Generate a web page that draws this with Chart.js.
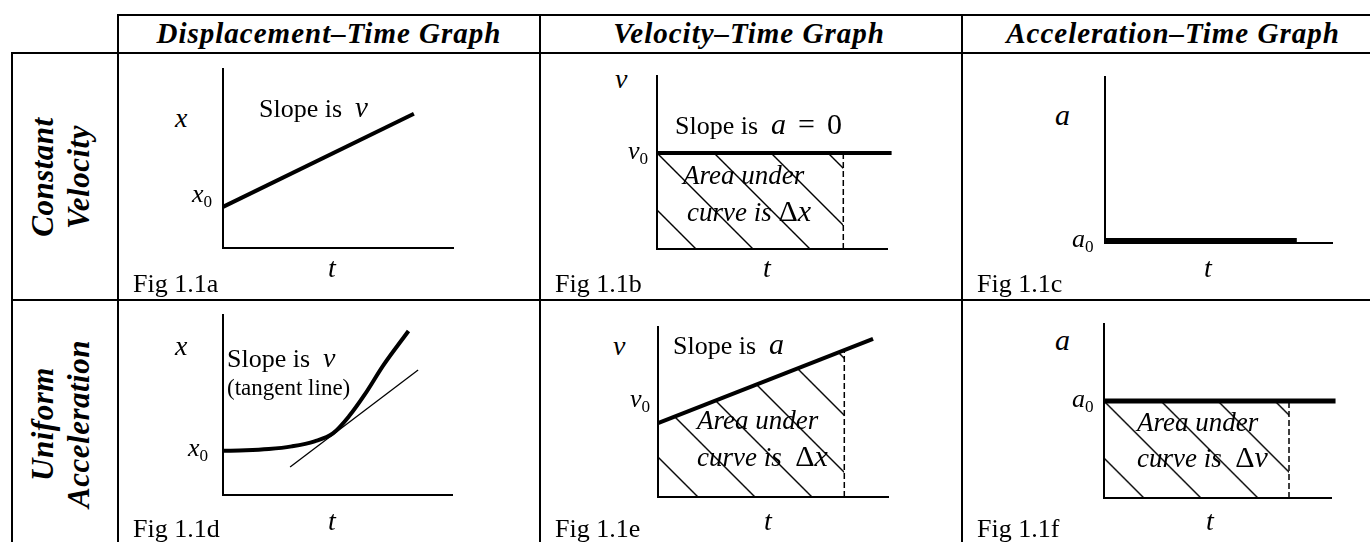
<!DOCTYPE html>
<html>
<head>
<meta charset="utf-8">
<title>Motion graphs</title>
<script src="https://cdn.jsdelivr.net/npm/chart.js@4.4.1/dist/chart.umd.min.js"></script>
<style>
  html, body { margin: 0; background: #fff; }
  #page { position: relative; width: 1370px; height: 542px; overflow: hidden;
          font-family: "Liberation Serif", "Times New Roman", serif; color: #000; }
  .rule { position: absolute; background: #000; }
  canvas { position: absolute; }
  .lbl { position: absolute; white-space: nowrap; line-height: 1; }
  .lbl sub { font-size: 0.66em; vertical-align: -0.28em; line-height: 0; font-style: normal; }
  .lbl .m { line-height: 0; }
  .head { position: absolute; transform: translateX(-50%); font-weight: bold; font-style: italic;
          font-size: 29px; letter-spacing: 1px; line-height: 1; white-space: nowrap; }
  .rowlab { position: absolute; width: 240px; height: 72px; left: -59.5px; text-align: center;
            font-weight: bold; font-style: italic; font-size: 31px; letter-spacing: 0.5px;
            line-height: 36px; transform: rotate(-90deg); }
</style>
</head>
<body>
<div id="page">
  <div class="rule" style="left:117px;top:14px;width:1253px;height:2px"></div>
  <div class="rule" style="left:11px;top:52px;width:1359px;height:2px"></div>
  <div class="rule" style="left:11px;top:299px;width:1359px;height:2px"></div>
  <div class="rule" style="left:11px;top:52px;width:2px;height:490px"></div>
  <div class="rule" style="left:117px;top:14px;width:2px;height:528px"></div>
  <div class="rule" style="left:539px;top:14px;width:2px;height:528px"></div>
  <div class="rule" style="left:961px;top:14px;width:2px;height:528px"></div>

  <div class="head" style="left:329px;top:19px">Displacement–Time Graph</div>
  <div class="head" style="left:749px;top:19px">Velocity–Time Graph</div>
  <div class="head" style="left:1173px;top:19px">Acceleration–Time Graph</div>

  <div class="rowlab" style="top:141px">Constant<br>Velocity</div>
  <div class="rowlab" style="top:388px">Uniform<br>Acceleration</div>

  <canvas id="figA"></canvas>
  <canvas id="figB"></canvas>
  <canvas id="figC"></canvas>
  <canvas id="figD"></canvas>
  <canvas id="figE"></canvas>
  <canvas id="figF"></canvas>
</div>
<script>
// values, both axes run 0..10 in every panel
// Fig 1.1a  x-t, constant velocity
const tA = [0, 8.3];
const xA = [2.3, 7.5];
// Fig 1.1b  v-t, constant velocity
const tB = [0, 10.2];
const vB = [5.55, 5.55];
const tBArea = [0, 8.1];
const vBArea = [5.55, 5.55];
// Fig 1.1c  a-t, constant velocity
const tC = [0, 8.45];
const aC = [0.12, 0.12];
// Fig 1.1d  x-t, uniform acceleration
const tD = [0, 1, 2, 3, 4, 4.8, 5.5, 6.2, 7.0, 8.1];
const xD = [2.46, 2.48, 2.55, 2.7, 2.98, 3.42, 4.37, 5.6, 7.2, 9.11];
const tTan = [2.93, 8.52];
const xTan = [1.56, 6.94];
// Fig 1.1e  v-t, uniform acceleration
const tE = [0, 9.35];
const vE = [4.35, 9.3];
const tEArea = [0, 8.1];
const vEArea = [4.35, 8.65];
// Fig 1.1f  a-t, uniform acceleration
const tF = [0, 10.2];
const aF = [5.57, 5.57];
const tFArea = [0, 8.15];
const aFArea = [5.57, 5.57];

const PAD = 12;
const pts = (xs, ys) => xs.map((x, i) => ({ x: x, y: ys[i] }));

function line(data, width, extra) {
    return Object.assign({
        data: data, borderColor: "#000", borderWidth: width,
        pointRadius: 0, fill: false, clip: false, tension: 0
    }, extra || {});
}

function hatchPattern() {
    const s = 57;
    const c = document.createElement("canvas");
    c.width = s; c.height = s;
    const g = c.getContext("2d");
    g.strokeStyle = "#000";
    g.lineWidth = 1.4;
    [-s, 0, s].forEach(o => {
        g.beginPath();
        g.moveTo(o - 3, -3);
        g.lineTo(o + s + 3, s + 3);
        g.stroke();
    });
    return g.createPattern(c, "repeat");
}

function area(xs, ys, pattern) {
    return {
        data: pts(xs, ys), fill: "origin", backgroundColor: pattern,
        borderColor: "transparent", borderWidth: 1, pointRadius: 0, tension: 0
    };
}

function edge(tEnd, vTop) {
    return line(pts([tEnd, tEnd], [0, vTop]), 1.5, { borderDash: [6, 3] });
}

function axis() {
    return {
        type: "linear", min: 0, max: 10,
        ticks: { display: false },
        grid: { display: false, drawTicks: false },
        border: { display: true, color: "#000", width: 2 }
    };
}

function makeGraph(id, box, datasets, hatch) {
    const cv = document.getElementById(id);
    cv.width = box.r - box.l + 2 * PAD;
    cv.height = box.b - box.t + 2 * PAD;
    cv.style.left = (box.l - PAD) + "px";
    cv.style.top = (box.t - PAD) + "px";

    const plugins = [];
    if (hatch) {
        plugins.push({
            id: "hatchAnchor",
            beforeDatasetsDraw(chart) {
                const x = chart.scales.x.getPixelForValue(0) + (hatch.shift || 0);
                const y = chart.scales.y.getPixelForValue(hatch.from);
                hatch.pattern.setTransform(new DOMMatrix([1, 0, 0, 1, x, y]));
            }
        });
    }

    return new Chart(cv, {
        type: "line",
        data: { datasets: datasets },
        options: {
            responsive: false,
            animation: false,
            events: [],
            layout: { padding: PAD },
            plugins: { legend: { display: false }, tooltip: { enabled: false } },
            scales: { x: axis(), y: axis() }
        },
        plugins: plugins
    });
}

// 1.1a
makeGraph("figA", { l: 223, t: 69, r: 453, b: 248 }, [
    line(pts(tA, xA), 4)
]);

// 1.1b
const patB = hatchPattern();
makeGraph("figB", { l: 657, t: 76, r: 887, b: 249 }, [
    line(pts(tB, vB), 4),
    edge(tBArea[1], vBArea[1]),
    area(tBArea, vBArea, patB)
], { pattern: patB, from: vBArea[0] });

// 1.1c
makeGraph("figC", { l: 1105, t: 77, r: 1332, b: 243 }, [
    line(pts(tC, aC), 6)
]);

// 1.1d
makeGraph("figD", { l: 223, t: 315, r: 452, b: 495 }, [
    line(pts(tD, xD), 4, { cubicInterpolationMode: "monotone" }),
    line(pts(tTan, xTan), 1.3)
]);

// 1.1e
const patE = hatchPattern();
makeGraph("figE", { l: 658, t: 327, r: 888, b: 497 }, [
    line(pts(tE, vE), 4),
    edge(tEArea[1], vEArea[1]),
    area(tEArea, vEArea, patE)
], { pattern: patE, from: vEArea[0], shift: 23 });

// 1.1f
const patF = hatchPattern();
makeGraph("figF", { l: 1104, t: 324, r: 1331, b: 498 }, [
    line(pts(tF, aF), 5),
    edge(tFArea[1], aFArea[1]),
    area(tFArea, aFArea, patF)
], { pattern: patF, from: aFArea[0] });

// annotations: left, baseline, font size, markup
const v = s => "<i>" + s + "</i>";
const big = (s, px) => '<span class="m" style="font-size:' + px + 'px">' + s + "</span>";
const LABELS = [
    [175, 127, 28, v("x")],
    [192, 203, 26, v("x") + "<sub>0</sub>"],
    [259, 118, 26, "Slope is&nbsp; " + big(v("v"), 29)],
    [328, 277, 28, v("t")],
    [133, 293, 26, "Fig 1.1a"],

    [615, 88, 28, v("v")],
    [628, 160, 26, v("v") + "<sub>0</sub>"],
    [675, 135, 26, "Slope is&nbsp; " + big(v("a") + '<span style="margin:0 12px">=</span>0', 30)],
    [683, 185, 27, v("Area under")],
    [687, 222, 27, v("curve is") + "&nbsp;" + big("Δ" + v("x"), 30)],
    [763, 277, 28, v("t")],
    [555, 293, 26, "Fig 1.1b"],

    [1055, 125, 30, v("a")],
    [1072, 248, 26, v("a") + "<sub>0</sub>"],
    [1204, 277, 28, v("t")],
    [977, 293, 26, "Fig 1.1c"],

    [175, 355, 28, v("x")],
    [227, 368, 26, "Slope is&nbsp; " + big(v("v"), 28)],
    [227, 395, 23, "(tangent line)"],
    [188, 457, 26, v("x") + "<sub>0</sub>"],
    [328, 530, 28, v("t")],
    [133, 538, 26, "Fig 1.1d"],

    [613, 355, 28, v("v")],
    [673, 355, 26, "Slope is&nbsp; " + big(v("a"), 30)],
    [630, 408, 26, v("v") + "<sub>0</sub>"],
    [697, 430, 27, v("Area under")],
    [697, 467, 27, v("curve is") + "&nbsp; " + big("Δ" + v("x"), 30)],
    [764, 530, 28, v("t")],
    [555, 538, 26, "Fig 1.1e"],

    [1055, 350, 30, v("a")],
    [1072, 408, 26, v("a") + "<sub>0</sub>"],
    [1137, 432, 27, v("Area under")],
    [1137, 468, 27, v("curve is") + "&nbsp; " + big("Δ" + v("v"), 30)],
    [1206, 530, 28, v("t")],
    [977, 538, 26, "Fig 1.1f"]
];

const page = document.getElementById("page");
LABELS.forEach(([x, base, size, html]) => {
    const el = document.createElement("div");
    el.className = "lbl";
    el.style.left = x + "px";
    el.style.top = (base - 0.8375 * size) + "px";
    el.style.fontSize = size + "px";
    el.innerHTML = html;
    page.appendChild(el);
});
</script>
</body>
</html>
